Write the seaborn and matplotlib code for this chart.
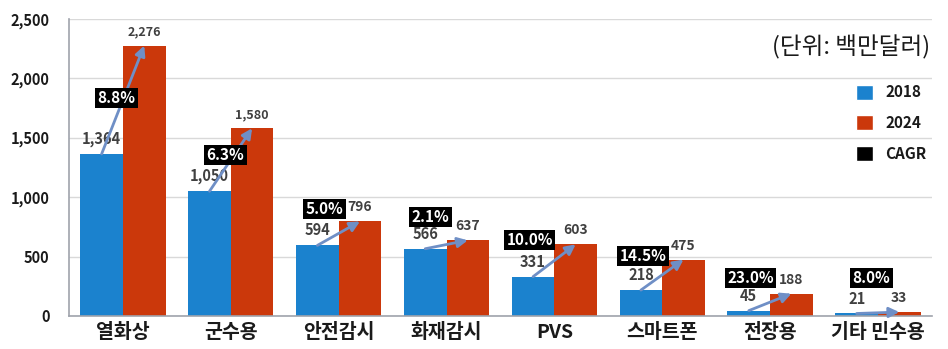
import matplotlib
matplotlib.use("Agg")
import matplotlib.pyplot as plt
from matplotlib.patches import Patch
import seaborn as sns
import pandas as pd

# Market size by application (million USD)
categories = ["열화상", "군수용", "안전감시", "화재감시", "PVS", "스마트폰", "전장용", "기타 민수용"]
values_2018 = [1364, 1050, 594, 566, 331, 218, 45, 21]
values_2024 = [2276, 1580, 796, 637, 603, 475, 188, 33]
cagr_labels = ["8.8%", "6.3%", "5.0%", "2.1%", "10.0%", "14.5%", "23.0%", "8.0%"]
years = ["2018", "2024"]
y_ticks = [0, 500, 1000, 1500, 2000, 2500]

# Where each CAGR badge sits: (offset from category centre, height in data units)
cagr_pos = [(-0.06, 1835), (-0.05, 1355), (-0.13, 900), (-0.15, 833),
            (-0.23, 640), (-0.18, 505), (-0.18, 320), (-0.06, 320)]

BLUE = "#1B82CE"
RED = "#CB380B"
ARROW = "#6F8FC6"
TEXT = "#404040"

sns.set_theme(style="white")
plt.rcParams["font.family"] = ["Noto Sans CJK KR", "DejaVu Sans"]

df = pd.DataFrame({
    "category": categories * 2,
    "value": values_2018 + values_2024,
    "year": [years[0]] * len(categories) + [years[1]] * len(categories),
})

fig = plt.figure(figsize=(9.48, 3.49), dpi=100)
ax = fig.add_axes([0.0728, 0.0946, 0.9102, 0.851])

sns.barplot(data=df, x="category", y="value", hue="year", order=categories,
            hue_order=years, palette=[BLUE, RED], width=0.79, saturation=1,
            edgecolor="none", legend=False, ax=ax, errorbar=None)

ax.set_ylim(0, 2500)
ax.set_xlim(-0.5, len(categories) - 0.5)
ax.set_yticks(y_ticks)
ax.set_yticklabels([f"{v:,}" for v in y_ticks], fontsize=10.5, fontweight="bold", color="#1a1a1a")
ax.set_xticklabels(categories, fontsize=14, fontweight="bold", color="#1a1a1a")
ax.tick_params(axis="y", length=0, pad=14)
ax.tick_params(axis="x", length=0, pad=5)
ax.set_xlabel("")
ax.set_ylabel("")
ax.yaxis.grid(True, color="#D9D9D9", linewidth=1)
ax.set_axisbelow(True)
for side in ["top", "right"]:
    ax.spines[side].set_visible(False)
for side in ["left", "bottom"]:
    ax.spines[side].set_color("#9FA3AC")
    ax.spines[side].set_linewidth(1.2)

n = len(categories)
bars_2018 = ax.patches[:n]
bars_2024 = ax.patches[n:2 * n]

for i in range(n):
    b1, b2 = bars_2018[i], bars_2024[i]
    x1 = b1.get_x() + b1.get_width() / 2
    x2 = b2.get_x() + b2.get_width() / 2
    v1, v2 = values_2018[i], values_2024[i]
    # value labels
    ax.annotate(f"{v1:,}", (x1, v1), xytext=(0, 5), textcoords="offset points",
                ha="center", va="bottom", fontsize=10.5, fontweight="bold", color=TEXT)
    ax.annotate(f"{v2:,}", (x2, v2), xytext=(0, 5), textcoords="offset points",
                ha="center", va="bottom", fontsize=9 if v2 > 1000 else 10,
                fontweight="bold", color=TEXT)
    # growth arrow from 2018 top to 2024 top
    ax.annotate("", xy=(x2, v2), xytext=(x1, v1),
                arrowprops=dict(arrowstyle="-|>,head_length=0.5,head_width=0.25",
                                color=ARROW, lw=2.0, shrinkA=0, shrinkB=0))
    # CAGR badge
    dx, y = cagr_pos[i]
    ax.text(i + dx, y, cagr_labels[i], ha="center", va="center", fontsize=11,
            fontweight="bold", color="white",
            bbox=dict(boxstyle="square,pad=0.15", facecolor="black", edgecolor="none"))

# unit note
ax.text(0.998, 0.905, "(단위: 백만달러)", transform=ax.transAxes, ha="right", va="center",
        fontsize=17, color="#1a1a1a")

handles = [Patch(facecolor=BLUE, label="2018"),
           Patch(facecolor=RED, label="2024"),
           Patch(facecolor="black", label="CAGR")]
leg = ax.legend(handles=handles, loc="upper left", bbox_to_anchor=(0.905, 0.80),
                frameon=False, fontsize=11, handlelength=1.1, handleheight=1.1,
                labelspacing=0.95, handletextpad=0.8, borderaxespad=0)
for t in leg.get_texts():
    t.set_fontweight("bold")
    t.set_color("#1a1a1a")

fig.savefig("out.png", dpi=100)
